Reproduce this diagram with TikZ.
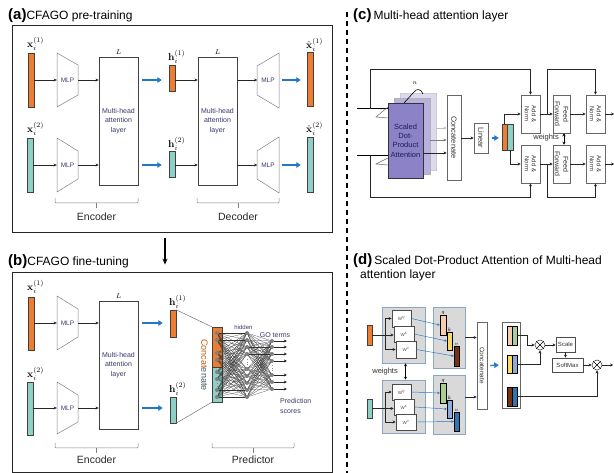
\documentclass[tikz,border=0pt]{standalone}
\usepackage[no-math]{fontspec}
\setmainfont{Liberation Sans}
\usetikzlibrary{arrows.meta,fit,calc}
\definecolor{myorange}{RGB}{237,125,49}
\definecolor{myteal}{RGB}{142,207,198}
\definecolor{myblue}{RGB}{31,120,200}
\definecolor{myslate}{RGB}{55,55,110}
\definecolor{mynavy}{RGB}{30,30,80}
\definecolor{pfront}{RGB}{140,130,200}
\definecolor{pmid}{RGB}{184,177,221}
\definecolor{pback}{RGB}{221,218,238}
\definecolor{gpanel}{RGB}{217,217,217}
\definecolor{gpedge}{RGB}{140,165,195}
\definecolor{cqa}{RGB}{248,203,173}
\definecolor{cka}{RGB}{255,217,102}
\definecolor{cva}{RGB}{120,50,15}
\definecolor{cqb}{RGB}{169,209,142}
\definecolor{ckb}{RGB}{143,170,220}
\definecolor{cvb}{RGB}{46,117,182}
\definecolor{concol}{RGB}{197,90,17}
\definecolor{concolb}{RGB}{60,90,95}
\newcommand{\myfs}[1]{\fontsize{#1}{#1}\selectfont}
\newcommand{\myfsl}[2]{\fontsize{#1}{#2}\selectfont}
\begin{document}
\begin{tikzpicture}[x=1pt,y=-1pt,
  panel/.style={draw=black!85,line width=0.8pt,inner sep=0pt},
  abox/.style={draw=black!75,line width=0.5pt,fill=white,inner sep=0pt},
  cbox/.style={draw=black!60,line width=0.5pt,fill=white,inner sep=0pt},
  obar/.style={draw=black!75,line width=0.4pt,fill=myorange,inner sep=0pt},
  tbar/.style={draw=black!75,line width=0.4pt,fill=myteal,inner sep=0pt},
  arr/.style={-{Stealth[length=3.2pt,width=3pt]},line width=0.6pt,black!85},
  barr/.style={-{Triangle[length=4.5pt,width=5.5pt]},line width=1.6pt,myblue},
  darr/.style={{Stealth[length=3pt,width=3pt]}-{Stealth[length=3pt,width=3pt]},line width=0.6pt},
  trap/.style={draw=black!50,line width=0.5pt},
  mlpn/.style={font=\myfs{6.5},text=myslate,inner sep=0pt,minimum width=21pt,minimum height=20pt},
  atxt/.style={font=\myfsl{7}{9.3},text=myslate,align=center,inner sep=0pt},
  brc/.style={draw=black!50,line width=0.5pt,rounded corners=1pt},
  blab/.style={font=\myfs{10.5},inner sep=0pt,text=black!85},
  mlab/.style={font=\myfs{10},inner sep=0pt,anchor=base west},
  ttl/.style={font=\myfs{12},inner sep=0pt,anchor=base west},
  rtxt/.style={rotate=-90,font=\myfsl{6}{7},text=black!80,align=center,inner sep=0pt},
  nnline/.style={line width=0.2pt,black!80},
  gpan/.style={draw=gpedge,fill=gpanel,line width=0.6pt,inner sep=0pt},
  wbox/.style={draw=black!70,fill=white,line width=0.5pt,inner sep=0pt,font=\myfs{4.5},text=black!70},
  barb/.style={draw=black,line width=0.4pt,inner sep=0pt},
  thinb/.style={-{Stealth[length=2.5pt,width=2.5pt]},line width=0.45pt,myblue},
  otimes/.style={circle,draw=black!80,line width=0.5pt,minimum size=10pt,inner sep=0pt,fill=white},
  sbox/.style={draw=black!70,line width=0.5pt,fill=white,inner sep=0pt,font=\myfs{6},text=black!80},
]
\useasboundingbox (0,0) rectangle (614,473);

% ---------------- Panel (a) ----------------
\node[ttl] (ta) at (8,20) {{\myfs{15}\bfseries(a)}CFAGO pre-training};
\node[panel,fit={(12,25)(332,232)}] (pa) {};
\node[obar,fit={(28,53)(34,107)}] (xa1) {};
\node[tbar,fit={(27,138)(33,192)}] (xa2) {};
\node[mlab] (lxa1) at (27,48) {$\mathbf{x}_i^{(1)}$};
\node[mlab] (lxa2) at (27,133) {$\mathbf{x}_i^{(2)}$};
\draw[trap] (57,53) -- (78,65) -- (78,95) -- (57,107) -- cycle;
\node[mlpn] (ma1) at (67.5,80) {MLP};
\draw[trap] (57,138) -- (78,151) -- (78,179) -- (57,192) -- cycle;
\node[mlpn] (ma2) at (67.5,165) {MLP};
\node[abox,fit={(99,57)(138,185)}] (ea) {};
\node[atxt] (eat) at (ea.center) {Multi-head\\attention\\layer};
\node[font=\myfs{7},inner sep=0] (lea) at ([yshift=4.5pt]ea.north) {$L$};
\draw[arr] (xa1.east |- ma1) -- (ma1.west);
\draw[arr] (xa2.east |- ma2) -- (ma2.west);
\draw[arr] (ma1.east) -- (ma1.east -| ea.west);
\draw[arr] (ma2.east) -- (ma2.east -| ea.west);
\node[obar,fit={(169,65)(175,91)}] (ha1) {};
\node[tbar,fit={(169,151)(175,177)}] (ha2) {};
\node[mlab] (lha1) at (168,61) {$\mathbf{h}_i^{(1)}$};
\node[mlab] (lha2) at (168,148) {$\mathbf{h}_i^{(2)}$};
\draw[barr] ([xshift=4pt]ea.east |- ma1) -- ([xshift=-7pt]ha1.west |- ma1);
\draw[barr] ([xshift=4pt]ea.east |- ma2) -- ([xshift=-7pt]ha2.west |- ma2);
\node[abox,fit={(198,57)(237,185)}] (da) {};
\node[atxt] (dat) at (da.center) {Multi-head\\attention\\layer};
\node[font=\myfs{7},inner sep=0] (lda) at ([yshift=4.5pt]da.north) {$L$};
\draw[arr] (ha1.east |- ma1) -- (da.west |- ma1);
\draw[arr] (ha2.east |- ma2) -- (da.west |- ma2);
\draw[trap] (257,66) -- (279,53) -- (279,108) -- (257,95) -- cycle;
\node[mlpn] (md1) at (268,80) {MLP};
\draw[trap] (257,151) -- (279,137) -- (279,193) -- (257,179) -- cycle;
\node[mlpn] (md2) at (268,165) {MLP};
\draw[arr] (da.east |- md1) -- (md1.west);
\draw[arr] (da.east |- md2) -- (md2.west);
\node[obar,fit={(307,52)(313,106)}] (xh1) {};
\node[tbar,fit={(307,137)(313,192)}] (xh2) {};
\node[mlab] (lxh1) at (306,49) {$\hat{\mathbf{x}}_i^{(1)}$};
\node[mlab] (lxh2) at (306,133) {$\hat{\mathbf{x}}_i^{(2)}$};
\draw[barr] ([xshift=3pt]md1.east) -- ([xshift=-6pt]xh1.west |- md1);
\draw[barr] ([xshift=3pt]md2.east) -- ([xshift=-6pt]xh2.west |- md2);
\draw[brc] (55,198) -- (55,203) -- (138,203) -- (138,198);
\draw[brc] (96.5,203) -- (96.5,208);
\node[blab] (lenca) at (96.5,217) {Encoder};
\draw[brc] (197,198) -- (197,203) -- (279,203) -- (279,198);
\draw[brc] (238,203) -- (238,208);
\node[blab] (ldeca) at (238,217) {Decoder};

% ---------------- Panel (b) ----------------
\node[ttl] (tb) at (8,266) {{\myfs{15}\bfseries(b)}CFAGO fine-tuning};
\node[panel,fit={(12,272)(332,472)}] (pb) {};
\draw[-{Stealth[length=6pt,width=5pt]},line width=1.2pt] ([xshift=-7pt,yshift=-6pt]pa.south) -- ([xshift=-7pt,yshift=7pt]pb.north);
\node[obar,fit={(28,297)(34,350)}] (xb1) {};
\node[tbar,fit={(27,382)(33,435)}] (xb2) {};
\node[mlab] (lxb1) at (27,291) {$\mathbf{x}_i^{(1)}$};
\node[mlab] (lxb2) at (27,378) {$\mathbf{x}_i^{(2)}$};
\draw[trap] (57,296) -- (78,309) -- (78,337) -- (57,350) -- cycle;
\node[mlpn] (mb1) at (67.5,323) {MLP};
\draw[trap] (57,382) -- (78,395) -- (78,422) -- (57,434) -- cycle;
\node[mlpn] (mb2) at (67.5,408) {MLP};
\node[abox,fit={(99,301)(138,429)}] (eb) {};
\node[atxt] (ebt) at (eb.center) {Multi-head\\attention\\layer};
\node[font=\myfs{7},inner sep=0] (leb) at ([yshift=4.5pt]eb.north) {$L$};
\draw[arr] (xb1.east |- mb1) -- (mb1.west);
\draw[arr] (xb2.east |- mb2) -- (mb2.west);
\draw[arr] (mb1.east) -- (mb1.east -| eb.west);
\draw[arr] (mb2.east) -- (mb2.east -| eb.west);
\node[obar,fit={(170,310)(176,337)}] (hb1) {};
\node[tbar,fit={(170,397)(176,423)}] (hb2) {};
\node[mlab] (lhb1) at (169,306) {$\mathbf{h}_i^{(1)}$};
\node[mlab] (lhb2) at (169,393) {$\mathbf{h}_i^{(2)}$};
\draw[barr] ([xshift=4pt]eb.east |- mb1) -- ([xshift=-7pt]hb1.west |- mb1);
\draw[barr] ([xshift=4pt]eb.east |- mb2) -- ([xshift=-7pt]hb2.west |- mb2);
\node[obar,fit={(212,327)(222,367)}] (cco) {};
\node[tbar,fit={(212,367)(222,402)}] (cct) {};
\draw[black!55,line width=0.5pt] (hb1.north east) -- (cco.north west);
\draw[black!55,line width=0.5pt] (hb2.south east) -- (cct.south west);
\node[rotate=-90,font=\myfs{9},inner sep=0] (cctxt) at (204.5,365) {\textcolor{concol}{Concat}\textcolor{concolb}{enate}};
\foreach \i/\y in {1/333,2/340,3/353,4/360,5/372,6/379,7/390,8/397} \coordinate (cn\i) at (217,\y);
\foreach \i/\y in {1/333,2/340,3/347,4/354,5/369,6/376,7/383,8/390,9/397} \coordinate (hn\i) at (247,\y);
\foreach \i/\y in {1/341,2/347,3/354,4/361,5/375,6/382,7/389} \coordinate (on\i) at (272,\y);
\foreach \i in {1,...,8} \foreach \j in {1,...,9} \draw[nnline] (cn\i) -- (hn\j);
\foreach \i in {1,...,9} \foreach \j in {1,...,7} \draw[nnline] (hn\i) -- (on\j);
\foreach \i in {1,...,8} \fill[black!50] (cn\i) circle (2pt);
\foreach \i in {1,...,9} \fill[black!50] (hn\i) circle (2pt);
\foreach \i in {1,...,7} \fill[black!50] (on\i) circle (2pt);
\draw[dotted,black!45,line width=0.6pt] (cn2) ++(0,4) -- ++(0,6);
\draw[dotted,black!45,line width=0.6pt] (cn6) ++(0,4) -- ++(0,5);
\draw[dotted,black!45,line width=0.6pt] (hn4) ++(0,5) -- ++(0,10);
\draw[dotted,black!45,line width=0.6pt] (on4) ++(0,4) -- ++(0,10);
\foreach \j in {1,...,7} \draw[arr,line width=0.5pt] ([xshift=2pt]on\j) -- ([xshift=15pt]on\j);
\node[font=\myfs{6},text=myslate,inner sep=0] (hidlab) at (243.5,327) {hidden};
\node[font=\myfs{7},text=myslate,inner sep=0] (golab) at (275,335) {GO terms};
\node[font=\myfsl{7}{10},text=myslate,align=left,anchor=north west,inner sep=0] (predlab) at (280,398) {Prediction\\scores};
\draw[brc] (55,443) -- (55,448) -- (138,448) -- (138,443);
\draw[brc] (96.5,448) -- (96.5,453);
\node[blab] (lencb) at (96.5,460) {Encoder};
\draw[brc] (212,443) -- (212,448) -- (294,448) -- (294,443);
\draw[brc] (253,448) -- (253,453);
\node[blab] (lpred) at (253,460) {Predictor};

% ---------------- Separator ----------------
\draw[line width=1.3pt,dash pattern=on 5pt off 4pt] (347,12) -- (347,473);

% ---------------- Panel (c) ----------------
\node[ttl] (tc) at (353,20) {{\myfs{15}\bfseries(c)}\hspace{2pt}Multi-head attention layer};
\node[fit={(400,93)(436,170)},inner sep=0,fill=pback,draw=black!20,line width=0.5pt] (sb3) {};
\node[fit={(394,98)(430,174)},inner sep=0,fill=pmid,draw=black!30,line width=0.5pt] (sb2) {};
\node[fit={(388,103)(423,178)},inner sep=0,fill=pfront,draw=black!80,line width=0.6pt] (sb1) {};
\node[font=\myfsl{7.5}{9.3},text=mynavy,align=center,inner sep=0] (sbt) at (sb1.center) {Scaled\\Dot-\\Product\\Attention};
\node[font=\myfs{6},inner sep=0] (nlab) at (415,83) {$n$};
\draw[line width=0.6pt] (404,103) -- (414,92) .. controls (417,88) and (421,89) .. (423,94);
\coordinate (inT) at (357,109);
\coordinate (inB) at (357,156);
\coordinate (jT) at (370,109);
\coordinate (jB) at (370,156);
\draw[line width=1pt] (inT) -- (inT -| sb1.west);
\draw[line width=1pt] (inB) -- (inB -| sb1.west);
\draw[black!60,line width=0.5pt] (388,107) -- (376,117) -- (388,118);
\draw[black!60,line width=0.5pt] (388,158) -- (376,164) -- (388,165);
\node[cbox,fit={(447,95)(461,180)}] (cc) {};
\node[rtxt,font=\myfs{7.5}] (cct2) at (cc.center) {Concatenate};
\draw[arr,black!25] ([yshift=3.5pt]sb3.east) -- ([yshift=3.5pt]sb3.east -| cc.west);
\draw[arr,black!50] ([yshift=-4pt]sb2.east) -- ([yshift=-4pt]sb2.east -| cc.west);
\draw[arr] ([yshift=-12.5pt]sb1.east) -- ([yshift=-12.5pt]sb1.east -| cc.west);
\node[cbox,fit={(474,123)(488,153)}] (lin) {};
\node[rtxt,font=\myfs{7.5}] (lint) at (lin.center) {Linear};
\draw[arr] (cc.east |- lin) -- (lin.west);
\node[obar,fit={(502,124)(507,150)}] (bpo) {};
\node[tbar,fit={(507,124)(513,150)}] (bpt) {};
\draw[barr,line width=1.3pt] ([xshift=4pt]lin.east) -- ([xshift=-3pt]bpo.west |- lin.east);
\node[cbox,fit={(521,95)(540,133)}] (an1) {};
\node[cbox,fit={(521,145)(540,183)}] (an2) {};
\node[cbox,fit={(553,95)(570,133)}] (ff1) {};
\node[cbox,fit={(553,145)(570,183)}] (ff2) {};
\node[cbox,fit={(586,95)(605,133)}] (an3) {};
\node[cbox,fit={(586,145)(605,183)}] (an4) {};
\node[rtxt] (an1t) at (an1.center) {Add \&\\Norm};
\node[rtxt] (an2t) at (an2.center) {Add \&\\Norm};
\node[rtxt] (an3t) at (an3.center) {Add \&\\Norm};
\node[rtxt] (an4t) at (an4.center) {Add \&\\Norm};
\node[rtxt,font=\myfsl{7}{8.5}] (ff1t) at (ff1.center) {Feed\\Forward};
\node[rtxt,font=\myfsl{7}{8.5}] (ff2t) at (ff2.center) {Feed\\Forward};
\draw[arr] (bpo.north) |- (an1.west);
\draw[arr] (bpt.south) |- (an2.west);
\draw[arr] (jT) |- ([yshift=25pt]an1.north) -- (an1.north);
\draw[arr] (jB) |- ([yshift=-14pt]an2.south) -- (an2.south);
\draw[arr] (an1.east) -- (ff1.west);
\draw[arr] (an2.east) -- (ff2.west);
\draw[arr] (ff1.east) -- (an3.west);
\draw[arr] (ff2.east) -- (an4.west);
\draw[arr] (an3.east) -- ([xshift=9pt]an3.east);
\draw[arr] (an4.east) -- ([xshift=9pt]an4.east);
\draw[arr] ([xshift=7pt]an1.east) |- ([yshift=25pt]an3.north) -- (an3.north);
\draw[arr] ([xshift=7pt]an2.east) |- ([yshift=-14pt]an4.south) -- (an4.south);
\draw[darr] ([xshift=2.5pt]ff1.south) -- ([xshift=2.5pt]ff2.north);
\node[font=\myfs{7.5},text=black!80,anchor=east,inner sep=0] (wlab) at (559,138) {weights};

% ---------------- Panel (d) ----------------
\node[ttl] (td) at (353,265) {{\myfs{15}\bfseries(d)}\hspace{2pt}Scaled Dot-Product Attention of Multi-head};
\node[ttl] (td2) at (360,279) {attention layer};
\node[obar,fit={(367,325)(372,345)}] (ib1) {};
\node[tbar,fit={(367,399)(372,418)}] (ib2) {};
\node[gpan,fit={(382,307)(425,363)}] (gp1) {};
\node[gpan,fit={(382,380)(425,433)}] (gp2) {};
\node[wbox,fit={(392,310)(411,327)}] (wq1) {};
\node[wbox,fit={(394,326)(414,342)}] (wk1) {};
\node[wbox,fit={(396,341)(416,358)}] (wv1) {};
\node[wbox,fit={(392,384)(411,400)}] (wq2) {};
\node[wbox,fit={(394,399)(414,415)}] (wk2) {};
\node[wbox,fit={(396,414)(416,430)}] (wv2) {};
\foreach \n/\s in {wq1/Q,wk1/K,wv1/V,wq2/Q,wk2/K,wv2/V}
  \node[font=\myfs{4.5},text=black!70,inner sep=0] at (\n.center) {W\textsuperscript{\s}};
\draw[arr] (ib1.east) -- (ib1.east -| wk1.west);
\draw[arr] ([xshift=13pt]ib1.east) |- (wq1.west);
\draw[arr] ([xshift=13pt]ib1.east) |- (wv1.west);
\draw[arr] (ib2.east) -- (ib2.east -| wk2.west);
\draw[arr] ([xshift=13pt]ib2.east) |- (wq2.west);
\draw[arr] ([xshift=13pt]ib2.east) |- (wv2.west);
\draw[darr] ([xshift=2pt]gp1.south) -- ([xshift=2pt]gp2.north);
\node[font=\myfs{7.5},text=black!80,anchor=east,inner sep=0] (wlab2) at (398,372) {weights};
\node[gpan,fit={(433,307)(465,368)}] (gp3) {};
\node[gpan,fit={(433,375)(465,434)}] (gp4) {};
\node[barb,fill=cqa,fit={(440,315)(446,335)}] (qa) {};
\node[barb,fill=cka,fit={(447,332)(452,350)}] (ka) {};
\node[barb,fill=cva,fit={(454,346)(459,366)}] (va) {};
\node[barb,fill=cqb,fit={(440,383)(446,403)}] (qb) {};
\node[barb,fill=ckb,fit={(447,400)(452,418)}] (kb) {};
\node[barb,fill=cvb,fit={(454,412)(459,431)}] (vb) {};
\foreach \n/\s in {qa/q,ka/k,va/v,qb/q,kb/k,vb/v}
  \node[font=\myfs{5},inner sep=0.5pt,anchor=south] at (\n.north) {$\s$};
\draw[thinb] (wq1.east) -- (qa.west);
\draw[thinb] (wk1.east) -- (ka.west);
\draw[thinb] (wv1.east) -- (va.west);
\draw[thinb] (wq2.east) -- (qb.west);
\draw[thinb] (wk2.east) -- (kb.west);
\draw[thinb] (wv2.east) -- (vb.west);
\node[cbox,fit={(477,322)(487,409)}] (cd) {};
\node[rtxt,font=\myfs{6.5}] (cdt) at (cd.center) {Concatenate};
\draw[arr] (gp3.east) -- (gp3.east -| cd.west);
\draw[arr] ([yshift=7.5pt]gp4.east) -- ([yshift=7.5pt]gp4.east -| cd.west);
\node[cbox,fit={(502,322)(520,408)}] (bb) {};
\draw[barr,line width=1.2pt] ([xshift=3pt]cd.east) -- ([xshift=-3pt]bb.west);
\node[barb,fill=cqa,fit={(507,326)(512,345)}] (p1a) {};
\node[barb,fill=cqb,fit={(512,326)(517,345)}] (p1b) {};
\node[barb,fill=cka,fit={(507,355)(512,373)}] (p2a) {};
\node[barb,fill=ckb,fit={(512,355)(517,373)}] (p2b) {};
\node[barb,fill=cva,fit={(507,387)(512,406)}] (p3a) {};
\node[barb,fill=cvb,fit={(512,387)(517,406)}] (p3b) {};
\node[otimes] (ot1) at (540,345) {};
\draw[line width=0.5pt] (ot1.north east) -- (ot1.south west) (ot1.north west) -- (ot1.south east);
\node[otimes] (ot2) at (597,365) {};
\draw[line width=0.5pt] (ot2.north east) -- (ot2.south west) (ot2.north west) -- (ot2.south east);
\node[sbox,fit={(556,337)(575,352)}] (sc) {};
\node[font=\myfs{6},text=black!80,inner sep=0] (sct) at (sc.center) {Scale};
\node[sbox,fit={(552,358)(583,372)}] (sm) {};
\node[font=\myfs{6},text=black!80,inner sep=0] (smt) at (sm.center) {SoftMax};
\draw[arr] (p1b.east) -- ++(10,0) |- (ot1.west);
\draw[arr] (p2b.east) -| (ot1.south);
\draw[arr] (ot1.east) -- (ot1.east -| sc.west);
\draw[arr] (sc.south) -- (sc.south |- sm.north);
\draw[arr] (sm.east) -- (ot2.west);
\draw[arr] (p3b.east) -| (ot2.south);
\draw[arr] (ot2.east) -- ([xshift=11pt]ot2.east);
\end{tikzpicture}
\end{document}
